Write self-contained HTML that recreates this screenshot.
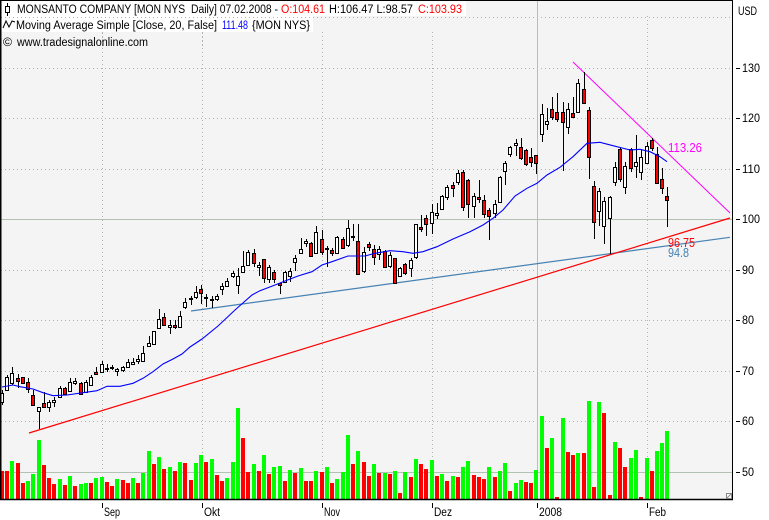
<!DOCTYPE html>
<html><head><meta charset="utf-8"><style>
html,body{margin:0;padding:0;background:#fff;}
svg{display:block;font-family:"Liberation Sans","DejaVu Sans",sans-serif;}
</style></head><body>
<svg width="769" height="520" viewBox="0 0 769 520" xmlns="http://www.w3.org/2000/svg">
<rect width="769" height="520" fill="#fff"/>
<rect x="0" y="0" width="733" height="500" fill="#f4f4f4"/>
<!-- header white boxes -->
<rect x="1" y="1" width="465" height="15" fill="#fff"/>
<rect x="1" y="16" width="312" height="16" fill="#fff"/>
<!-- dotted grid -->
<g stroke="#a9b5a9" stroke-width="1" stroke-dasharray="1 3" fill="none">
<path d="M1 17.5H732M1 68.5H732M1 118.5H732M1 169.5H732M1 270.5H732M1 320.5H732M1 371.5H732M1 421.5H732"/>
<path d="M102.5 32V499M202.5 32V499M322.5 32V499M432.5 32V499M647.5 16V499"/>
<path d="M102.5 33V48M202.5 33V48"/>
</g>
<!-- solid grey lines -->
<g stroke="#b2c2b2" stroke-width="1" fill="none">
<path d="M1 219.5H732M1 472.5H732M537.5 1V499"/>
</g>
<!-- volume -->
<path fill="#00ff00" d="M10 461h4V499h-4zM26 481h4V499h-4zM31 474h4V499h-4zM37 440h4V499h-4zM58 479h4V499h-4zM68 476h4V499h-4zM79 484h4V499h-4zM84 483h4V499h-4zM94 478h4V499h-4zM100 477h4V499h-4zM115 479h4V499h-4zM131 478h4V499h-4zM141 473h4V499h-4zM147 451h4V499h-4zM157 457h4V499h-4zM168 467h4V499h-4zM178 462h4V499h-4zM194 463h4V499h-4zM199 455h4V499h-4zM210 459h4V499h-4zM225 478h4V499h-4zM231 462h4V499h-4zM236 408h4V499h-4zM252 464h4V499h-4zM262 455h4V499h-4zM272 467h4V499h-4zM278 466h4V499h-4zM288 470h4V499h-4zM299 468h4V499h-4zM314 471h4V499h-4zM325 467h4V499h-4zM335 479h4V499h-4zM341 472h4V499h-4zM346 435h4V499h-4zM356 451h4V499h-4zM372 464h4V499h-4zM383 473h4V499h-4zM393 471h4V499h-4zM403 472h4V499h-4zM414 459h4V499h-4zM430 460h4V499h-4zM440 474h4V499h-4zM451 476h4V499h-4zM461 467h4V499h-4zM466 461h4V499h-4zM487 467h4V499h-4zM498 471h4V499h-4zM503 463h4V499h-4zM514 483h4V499h-4zM519 480h4V499h-4zM534 470h4V499h-4zM540 416h4V499h-4zM550 438h4V499h-4zM561 418h4V499h-4zM576 453h4V499h-4zM587 401h4V499h-4zM597 402h4V499h-4zM613 442h4V499h-4zM629 458h4V499h-4zM634 450h4V499h-4zM645 458h4V499h-4zM655 451h4V499h-4zM660 443h4V499h-4zM665 431h4V499h-4z"/>
<path fill="#ff0000" d="M1 471h3V499h-3zM5 471h4V499h-4zM16 463h4V499h-4zM21 483h4V499h-4zM42 465h4V499h-4zM47 478h4V499h-4zM52 484h4V499h-4zM63 485h4V499h-4zM73 486h4V499h-4zM89 483h4V499h-4zM105 482h4V499h-4zM110 486h4V499h-4zM121 480h4V499h-4zM126 483h4V499h-4zM136 483h4V499h-4zM152 464h4V499h-4zM162 469h4V499h-4zM173 471h4V499h-4zM183 463h4V499h-4zM189 480h4V499h-4zM204 462h4V499h-4zM215 475h4V499h-4zM220 481h4V499h-4zM241 438h4V499h-4zM246 472h4V499h-4zM257 471h4V499h-4zM267 474h4V499h-4zM283 481h4V499h-4zM293 473h4V499h-4zM304 481h4V499h-4zM309 481h4V499h-4zM320 472h4V499h-4zM330 483h4V499h-4zM351 464h4V499h-4zM362 462h4V499h-4zM367 476h4V499h-4zM377 473h4V499h-4zM388 474h4V499h-4zM398 493h4V499h-4zM409 477h4V499h-4zM419 464h4V499h-4zM424 469h4V499h-4zM435 476h4V499h-4zM445 481h4V499h-4zM456 477h4V499h-4zM472 475h4V499h-4zM477 477h4V499h-4zM482 479h4V499h-4zM493 477h4V499h-4zM508 491h4V499h-4zM524 482h4V499h-4zM529 483h4V499h-4zM545 448h4V499h-4zM555 497h4V499h-4zM566 452h4V499h-4zM571 455h4V499h-4zM582 453h4V499h-4zM592 487h4V499h-4zM602 413h4V499h-4zM608 495h4V499h-4zM618 448h4V499h-4zM623 467h4V499h-4zM639 497h4V499h-4zM650 471h4V499h-4z"/>
<!-- trend lines -->
<path d="M191 311L730 237.3" stroke="#4682b4" stroke-width="1.2" fill="none"/>
<path d="M29 433L730 218" stroke="#ff0000" stroke-width="1.2" fill="none"/>
<path d="M573 62L730 213" stroke="#ff00ff" stroke-width="1" fill="none"/>
<!-- wicks -->
<path stroke="#000" stroke-width="1" fill="none" d="M2.5 390V405M7.5 375V391M12.5 367V385M18.5 374V388M23.5 377V384M28.5 378V393M33.5 390V406M39.5 407V429M44.5 392V407M49.5 400V412M54.5 397V407M60.5 386V398M65.5 387V395M70.5 378V392M75.5 378V385M81.5 382V395M86.5 380V393M91.5 375V386M96.5 367V375M102.5 361V373M107.5 364V372M112.5 365V370M117.5 368V376M123.5 366V372M128.5 359V368M133.5 358V365M138.5 355V364M143.5 346V362M149.5 336V347M154.5 331V345M159.5 309V329M164.5 313V326M170.5 320V334M175.5 320V329M180.5 311V328M185.5 298V309M191.5 296V305M196.5 286V299M201.5 285V304M206.5 294V307M212.5 296V308M217.5 294V301M222.5 283V295M227.5 278V287M233.5 271V278M238.5 268V294M243.5 251V273M248.5 250V266M254.5 249V267M259.5 262V276M264.5 259V283M269.5 265V283M274.5 270V283M280.5 283V294M285.5 271V283M290.5 268V282M295.5 255V271M301.5 238V254M306.5 239V247M311.5 242V257M316.5 226V254M322.5 230V255M327.5 246V267M332.5 248V256M337.5 236V254M343.5 237V249M348.5 220V247M353.5 224V241M358.5 224V275M364.5 247V273M369.5 242V251M374.5 245V265M379.5 246V260M385.5 250V268M390.5 252V268M395.5 258V284M400.5 267V277M405.5 263V275M411.5 258V277M416.5 224V259M421.5 215V232M426.5 215V236M432.5 204V234M437.5 203V219M442.5 195V210M447.5 185V200M453.5 182V197M458.5 170V185M463.5 170V211M468.5 179V218M474.5 193V218M479.5 180V203M484.5 195V218M489.5 208V240M495.5 200V218M500.5 176V203M505.5 161V185M510.5 146V157M516.5 139V156M521.5 138V160M526.5 149V166M531.5 148V167M536.5 155V174M542.5 104V142M547.5 108V130M552.5 97V120M557.5 93V122M563.5 102V171M568.5 103V134M573.5 97V118M578.5 79V112M584.5 72V103M589.5 107V179M594.5 181V239M599.5 188V226M604.5 197V244M610.5 196V254M615.5 162V186M620.5 147V182M625.5 162V194M631.5 148V172M636.5 135V178M641.5 149V180M647.5 142V164M652.5 138V151M657.5 147V183M662.5 168V194M667.5 187V227"/>
<!-- white bodies -->
<path fill="#fff" stroke="#000" stroke-width="1" d="M0.5 393.5h3v9h-3zM5.5 377.5h3v13h-3zM10.5 373.5h3v10h-3zM37.5 407.5h3v4h-3zM47.5 402.5h3v5h-3zM52.5 400.5h3v2h-3zM58.5 388.5h3v9h-3zM68.5 382.5h3v9h-3zM73.5 381.5h3v2h-3zM84.5 382.5h3v10h-3zM89.5 377.5h3v8h-3zM100.5 364.5h3v8h-3zM105.5 368.5h3v1h-3zM115.5 369.5h3v2h-3zM121.5 367.5h3v3h-3zM126.5 362.5h3v5h-3zM131.5 362.5h3v2h-3zM136.5 359.5h3v2h-3zM141.5 353.5h3v8h-3zM147.5 343.5h3v3h-3zM152.5 331.5h3v13h-3zM157.5 319.5h3v9h-3zM168.5 325.5h3v2h-3zM178.5 316.5h3v11h-3zM183.5 302.5h3v5h-3zM189.5 298.5h3v1h-3zM194.5 292.5h3v5h-3zM204.5 297.5h3v1h-3zM210.5 299.5h3v1h-3zM215.5 296.5h3v3h-3zM220.5 286.5h3v3h-3zM225.5 281.5h3v5h-3zM231.5 273.5h3v3h-3zM236.5 276.5h3v9h-3zM241.5 266.5h3v6h-3zM246.5 252.5h3v13h-3zM257.5 265.5h3v2h-3zM267.5 267.5h3v12h-3zM283.5 272.5h3v10h-3zM288.5 271.5h3v5h-3zM293.5 258.5h3v4h-3zM299.5 249.5h3v4h-3zM304.5 241.5h3v2h-3zM314.5 232.5h3v21h-3zM325.5 248.5h3v1h-3zM335.5 237.5h3v16h-3zM346.5 228.5h3v17h-3zM351.5 236.5h3v1h-3zM362.5 252.5h3v19h-3zM377.5 249.5h3v5h-3zM388.5 255.5h3v11h-3zM398.5 268.5h3v8h-3zM409.5 260.5h3v8h-3zM414.5 224.5h3v33h-3zM430.5 212.5h3v11h-3zM435.5 213.5h3v2h-3zM440.5 196.5h3v13h-3zM445.5 187.5h3v10h-3zM456.5 173.5h3v9h-3zM472.5 196.5h3v10h-3zM493.5 204.5h3v9h-3zM498.5 177.5h3v25h-3zM503.5 163.5h3v8h-3zM508.5 147.5h3v7h-3zM514.5 143.5h3v2h-3zM540.5 114.5h3v20h-3zM545.5 121.5h3v3h-3zM566.5 109.5h3v18h-3zM576.5 83.5h3v29h-3zM597.5 191.5h3v20h-3zM602.5 201.5h3v25h-3zM608.5 197.5h3v21h-3zM613.5 167.5h3v15h-3zM623.5 166.5h3v21h-3zM634.5 162.5h3v4h-3zM639.5 157.5h3v15h-3zM645.5 146.5h3v17h-3z"/>
<!-- red bodies -->
<path fill="#ff0000" stroke="#000" stroke-width="1" d="M16.5 378.5h3v3h-3zM21.5 377.5h3v6h-3zM26.5 382.5h3v7h-3zM31.5 395.5h3v10h-3zM42.5 403.5h3v4h-3zM63.5 388.5h3v6h-3zM79.5 383.5h3v11h-3zM94.5 372.5h3v2h-3zM110.5 367.5h3v1h-3zM162.5 317.5h3v8h-3zM173.5 325.5h3v2h-3zM199.5 289.5h3v4h-3zM252.5 253.5h3v10h-3zM262.5 259.5h3v19h-3zM272.5 272.5h3v7h-3zM278.5 283.5h3v2h-3zM309.5 243.5h3v13h-3zM320.5 239.5h3v13h-3zM330.5 250.5h3v3h-3zM341.5 239.5h3v9h-3zM356.5 241.5h3v33h-3zM367.5 244.5h3v3h-3zM372.5 249.5h3v8h-3zM383.5 251.5h3v16h-3zM393.5 258.5h3v25h-3zM403.5 264.5h3v9h-3zM419.5 227.5h3v2h-3zM424.5 218.5h3v6h-3zM451.5 185.5h3v3h-3zM461.5 172.5h3v35h-3zM466.5 180.5h3v24h-3zM477.5 197.5h3v2h-3zM482.5 200.5h3v14h-3zM487.5 210.5h3v6h-3zM519.5 147.5h3v11h-3zM524.5 150.5h3v14h-3zM529.5 157.5h3v5h-3zM534.5 155.5h3v8h-3zM550.5 109.5h3v8h-3zM555.5 112.5h3v7h-3zM561.5 112.5h3v10h-3zM571.5 113.5h3v4h-3zM582.5 89.5h3v14h-3zM587.5 110.5h3v47h-3zM592.5 186.5h3v36h-3zM618.5 149.5h3v30h-3zM629.5 149.5h3v19h-3zM650.5 140.5h3v8h-3zM655.5 154.5h3v29h-3zM660.5 179.5h3v9h-3zM665.5 196.5h3v4h-3z"/>
<!-- moving average -->
<polyline fill="none" stroke="#0000ff" stroke-width="1.1" points="2,387 13,385 20,386.7 33,389 43,392.7 53,395.7 67,395 83,392.7 97,390.7 107,386.3 120,386.3 133,383.3 143,378.3 153,371.7 163,364 173,359 182,354 190,347 202,339 218,326 235,310 252,295 260,290.7 275,285 285,281 298,276 312,271.7 322,265 332,261.7 348,256 365,256 375,253.3 390,250.7 403,251.7 413,253.3 423,251.7 437,246.7 453,239 470,231.7 483,225 493,218.3 503,210 515,196 527,188.3 537,183.3 547,175 560,167.3 573,156.7 587,143.3 600,142.3 613,145.7 630,150 640,149.3 650,151.7 660,156.7 667,161.7"/>
<!-- line labels -->
<text x="668" y="152" font-size="12.5" fill="#ff00ff" textLength="34" lengthAdjust="spacingAndGlyphs">113.26</text>
<text x="668" y="247" font-size="12.5" fill="#ff0000" textLength="27" lengthAdjust="spacingAndGlyphs">96.75</text>
<text x="668" y="257" font-size="12.5" fill="#4682b4" textLength="21" lengthAdjust="spacingAndGlyphs">94.8</text>
<!-- frame -->
<path d="M0.5 0.5H732.5V499.5H0.5Z" fill="none" stroke="#000" stroke-width="1"/>
<path d="M0 499.5H733" stroke="#000" stroke-width="1.6"/>
<path d="M1 1V499" stroke="#000" stroke-width="1"/>
<!-- corner icon -->
<rect x="726.5" y="493.5" width="5" height="5" fill="#fff" stroke="#888"/>
<path d="M727 498L731 494" stroke="#888"/>
<!-- header -->
<path d="M7.5 3V16" stroke="#000"/>
<rect x="5.5" y="6.5" width="4" height="6" fill="#fff" stroke="#000"/>
<path d="M3 28L6 21L9 27L12 21L15 22" fill="none" stroke="#000" stroke-width="1"/>
<g font-size="11.5" fill="#000">
<text x="17" y="13" textLength="261" lengthAdjust="spacingAndGlyphs">MONSANTO COMPANY [MON NYS&#160; Daily] 07.02.2008 -</text>
<text x="281" y="13" textLength="44" lengthAdjust="spacingAndGlyphs" fill="#ff0000">O:104.61</text>
<text x="329" y="13" textLength="84" lengthAdjust="spacingAndGlyphs">H:106.47 L:98.57</text>
<text x="418" y="13" textLength="44" lengthAdjust="spacingAndGlyphs" fill="#ff0000">C:103.93</text>
<text x="16" y="29" textLength="201" lengthAdjust="spacingAndGlyphs">Moving Average Simple [Close, 20, False]</text>
<text x="222" y="29" textLength="26" lengthAdjust="spacingAndGlyphs" fill="#0000ff">111.48</text>
<text x="252" y="29" textLength="58" lengthAdjust="spacingAndGlyphs">{MON NYS}</text>
<text x="3" y="46" textLength="9" lengthAdjust="spacingAndGlyphs">©</text>
<text x="17" y="46" textLength="131" lengthAdjust="spacingAndGlyphs">www.tradesignalonline.com</text>
</g>
<!-- right axis -->
<path stroke="#000" stroke-width="1" d="M736 68.5h4M736 118.5h4M736 169.5h4M736 219.5h4M736 270.5h4M736 320.5h4M736 371.5h4M736 421.5h4M736 472.5h4"/>
<g font-size="12" fill="#000">
<text x="738" y="15" textLength="19" lengthAdjust="spacingAndGlyphs">USD</text>
<text x="742" y="72" textLength="18" lengthAdjust="spacingAndGlyphs">130</text>
<text x="742" y="122" textLength="18" lengthAdjust="spacingAndGlyphs">120</text>
<text x="742" y="173" textLength="18" lengthAdjust="spacingAndGlyphs">110</text>
<text x="742" y="223" textLength="18" lengthAdjust="spacingAndGlyphs">100</text>
<text x="742" y="274" textLength="12" lengthAdjust="spacingAndGlyphs">90</text>
<text x="742" y="324" textLength="12" lengthAdjust="spacingAndGlyphs">80</text>
<text x="742" y="375" textLength="12" lengthAdjust="spacingAndGlyphs">70</text>
<text x="742" y="425" textLength="12" lengthAdjust="spacingAndGlyphs">60</text>
<text x="742" y="476" textLength="12" lengthAdjust="spacingAndGlyphs">50</text>
</g>
<!-- bottom axis -->
<path stroke="#000" stroke-width="1" d="M102.5 503V508M202.5 503V508M322.5 503V508M432.5 503V508M537.5 503V508M647.5 503V508"/>
<g font-size="11.5" fill="#000">
<text x="104" y="516" textLength="16" lengthAdjust="spacingAndGlyphs">Sep</text>
<text x="204" y="516" textLength="16" lengthAdjust="spacingAndGlyphs">Okt</text>
<text x="324" y="516" textLength="16" lengthAdjust="spacingAndGlyphs">Nov</text>
<text x="434" y="516" textLength="18" lengthAdjust="spacingAndGlyphs">Dez</text>
<text x="539" y="516" textLength="23" lengthAdjust="spacingAndGlyphs">2008</text>
<text x="649" y="516" textLength="17" lengthAdjust="spacingAndGlyphs">Feb</text>
</g>
</svg>
</body></html>
